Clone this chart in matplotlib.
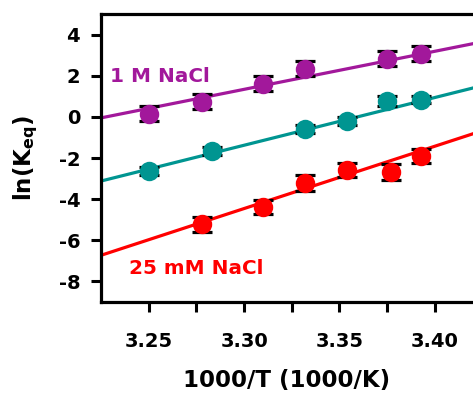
import numpy as np
import matplotlib
matplotlib.use("Agg")
import matplotlib.pyplot as plt

plt.rcParams['font.family'] = ['DejaVu Sans']
plt.rcParams['font.weight'] = 'bold'
plt.rcParams['mathtext.default'] = 'bf'

# Data
x_purple = [3.250, 3.278, 3.310, 3.332, 3.375, 3.393]
y_purple = [0.15, 0.73, 1.61, 2.34, 2.83, 3.07]
e_purple = [0.36, 0.36, 0.36, 0.36, 0.36, 0.36]

x_teal = [3.250, 3.283, 3.332, 3.354, 3.375, 3.393]
y_teal = [-2.63, -1.66, -0.59, -0.20, 0.78, 0.83]
e_teal = [0.18, 0.18, 0.18, 0.18, 0.25, 0.18]

x_red = [3.278, 3.310, 3.332, 3.354, 3.377, 3.393]
y_red = [-5.22, -4.39, -3.22, -2.59, -2.68, -1.90]
e_red = [0.37, 0.35, 0.37, 0.35, 0.37, 0.35]

# linear fits (slope, value at x=3.225)
fit_x = [3.225, 3.42]
fit_purple = (18.5, -0.05)
fit_teal = (23.2, -3.12)
fit_red = (30.3, -6.73)

c_purple = '#A2189B'
c_teal = '#009591'
c_red = '#FF0000'

fig = plt.figure(figsize=(4.73, 3.94), dpi=100)
ax = fig.add_axes([101/473, 1-302/394, 1-101/473, (302-14)/394])

for (xs, ys, es, fit, c) in [(x_purple, y_purple, e_purple, fit_purple, c_purple),
                              (x_teal, y_teal, e_teal, fit_teal, c_teal),
                              (x_red, y_red, e_red, fit_red, c_red)]:
    fx = np.array(fit_x)
    fy = fit[1] + fit[0] * (fx - fit_x[0])
    ax.plot(fx, fy, color=c, lw=2.3, zorder=2)
    ax.errorbar(xs, ys, yerr=es, fmt='none', ecolor='black', elinewidth=1.2,
                capsize=7.5, capthick=2.3, zorder=3)
    ax.plot(xs, ys, 'o', color=c, markersize=14, markeredgewidth=0, zorder=4)

ax.text(3.2295, 1.95, '1 M NaCl', color=c_purple, fontsize=14.4, fontweight='bold',
        ha='left', va='center')
ax.text(3.2395, -7.35, '25 mM NaCl', color=c_red, fontsize=14.4, fontweight='bold',
        ha='left', va='center')

ax.set_xlim(3.225, 3.42)
ax.set_ylim(-9, 5)
ax.set_xticks([3.25, 3.30, 3.35, 3.40])
ax.set_xticks([3.275, 3.325, 3.375], minor=True)
ax.set_xticklabels(['3.25', '3.30', '3.35', '3.40'])
ax.set_yticks([-8, -6, -4, -2, 0, 2, 4])
ax.set_yticklabels(['-8', '-6', '-4', '-2', '0', '2', '4'])

ax.spines['right'].set_visible(False)
for s in ['left', 'bottom', 'top']:
    ax.spines[s].set_linewidth(2.3)
ax.tick_params(axis='both', which='both', direction='out', width=2.2, labelsize=14)
ax.tick_params(axis='x', which='both', length=7.5, pad=14)
ax.tick_params(axis='y', which='both', length=7, pad=8)
for lab in ax.get_xticklabels() + ax.get_yticklabels():
    lab.set_fontweight('bold')

ax.set_xlabel('1000/T (1000/K)', fontsize=16.5, fontweight='bold', labelpad=13)
ax.set_ylabel(r'ln(K$_{\mathbf{eq}}$)', fontsize=16.5, fontweight='bold', labelpad=13)

fig.savefig('out.png', dpi=100)
